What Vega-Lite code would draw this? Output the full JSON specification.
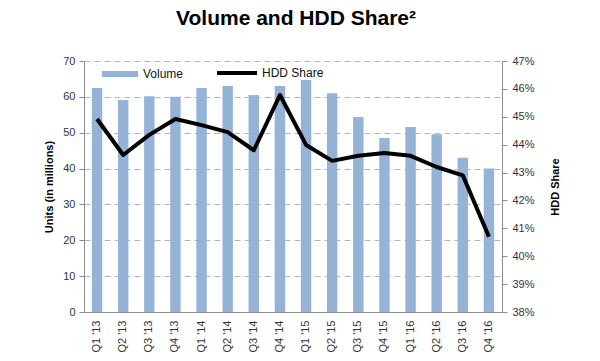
{
  "$schema": "https://vega.github.io/schema/vega-lite/v6.json",
  "width": 418,
  "height": 251,
  "autosize": {"type": "none"},
  "padding": {"left": 84, "top": 61, "right": 98, "bottom": 49},
  "title": {
    "text": "Volume and HDD Share²",
    "fontSize": 21,
    "font": "Liberation Sans",
    "fontWeight": "bold",
    "color": "#000000",
    "anchor": "middle",
    "offset": 22,
    "dx": 3
  },
  "config": {
    "view": {"stroke": null},
    "font": "Liberation Sans",
    "axis": {
      "labelFont": "Liberation Sans",
      "labelColor": "#333333",
      "labelFontSize": 11,
      "domainColor": "#8c8c8c",
      "tickColor": "#8c8c8c",
      "titleFont": "Liberation Sans",
      "titleFontWeight": "bold",
      "titleFontSize": 11,
      "titleColor": "#000000"
    },
    "legend": {"labelFont": "Liberation Sans", "labelFontSize": 12, "labelColor": "#111111", "padding": 0}
  },
  "data": {
    "values": [
      {"quarter": "Q1 '13", "volume": 62.5, "share": 44.92},
      {"quarter": "Q2 '13", "volume": 59.1, "share": 43.63},
      {"quarter": "Q3 '13", "volume": 60.2, "share": 44.35},
      {"quarter": "Q4 '13", "volume": 60.0, "share": 44.92},
      {"quarter": "Q1 '14", "volume": 62.5, "share": 44.7},
      {"quarter": "Q2 '14", "volume": 63.0, "share": 44.45},
      {"quarter": "Q3 '14", "volume": 60.5, "share": 43.8},
      {"quarter": "Q4 '14", "volume": 63.0, "share": 45.78},
      {"quarter": "Q1 '15", "volume": 64.7, "share": 43.99},
      {"quarter": "Q2 '15", "volume": 61.0, "share": 43.42},
      {"quarter": "Q3 '15", "volume": 54.4, "share": 43.6},
      {"quarter": "Q4 '15", "volume": 48.5, "share": 43.7},
      {"quarter": "Q1 '16", "volume": 51.6, "share": 43.6},
      {"quarter": "Q2 '16", "volume": 49.6, "share": 43.2},
      {"quarter": "Q3 '16", "volume": 43.0, "share": 42.9},
      {"quarter": "Q4 '16", "volume": 40.0, "share": 40.7}
    ]
  },
  "encoding": {
    "x": {
      "field": "quarter",
      "type": "ordinal",
      "sort": null,
      "scale": {"paddingInner": 0.6, "paddingOuter": 0.3},
      "axis": {"title": null, "labelAngle": 270, "labelFontSize": 11, "ticks": false, "labelPadding": 8}
    }
  },
  "layer": [
    {
      "mark": {"type": "bar", "color": "#95B3D7"},
      "encoding": {
        "y": {
          "field": "volume",
          "type": "quantitative",
          "scale": {"domain": [0, 70], "nice": false},
          "axis": {
            "title": "Units (in millions)",
            "values": [0, 10, 20, 30, 40, 50, 60, 70],
            "grid": true,
            "gridDash": [6, 4],
            "gridColor": "#b5b5b5",
            "tickSize": 5,
            "labelPadding": 4,
            "titlePadding": 8
          }
        },
        "fill": {
          "datum": "Volume",
          "scale": {"range": ["#95B3D7"]},
          "legend": {
            "title": null,
            "orient": "none",
            "legendX": 18,
            "legendY": -5,
            "symbolType": "M-1,-0.167H1V0.167H-1Z",
            "symbolSize": 1296,
            "symbolStrokeWidth": 0,
            "labelOffset": 5
          }
        }
      }
    },
    {
      "mark": {"type": "line", "color": "#000000", "strokeWidth": 4, "strokeJoin": "round"},
      "encoding": {
        "y": {
          "field": "share",
          "type": "quantitative",
          "scale": {"domain": [38, 47], "nice": false, "zero": false},
          "axis": {
            "orient": "right",
            "title": "HDD Share",
            "titleAngle": 270,
            "values": [38, 39, 40, 41, 42, 43, 44, 45, 46, 47],
            "labelExpr": "datum.value + '%'",
            "grid": false,
            "tickSize": 5,
            "labelPadding": 5,
            "titlePadding": 26
          }
        },
        "stroke": {
          "datum": "HDD Share",
          "scale": {"range": ["#000000"]},
          "legend": {
            "title": null,
            "orient": "none",
            "legendX": 131,
            "legendY": -10,
            "symbolType": "stroke",
            "symbolSize": 1600,
            "symbolStrokeWidth": 4,
            "labelOffset": 3
          }
        }
      }
    }
  ],
  "resolve": {"scale": {"y": "independent", "x": "shared"}}
}
